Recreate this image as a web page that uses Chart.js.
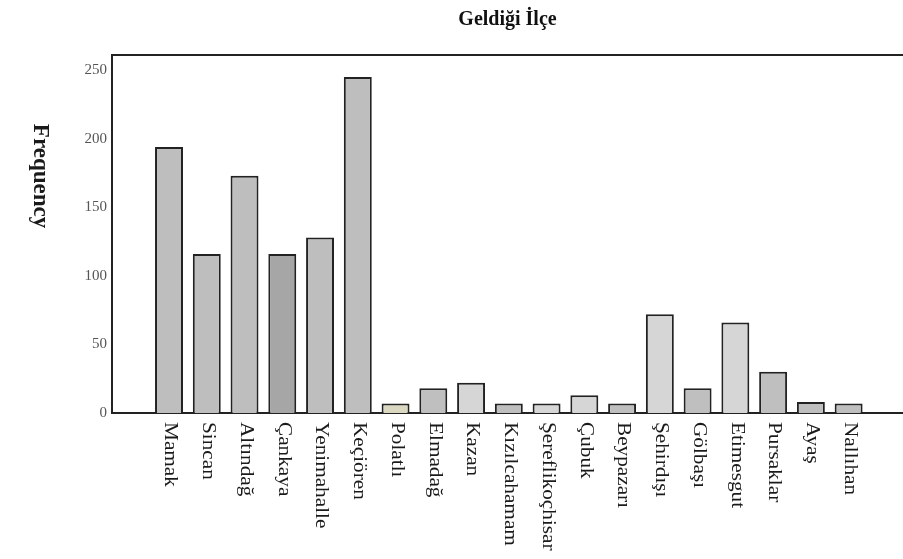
<!DOCTYPE html>
<html>
<head>
<meta charset="utf-8">
<script src="https://cdn.jsdelivr.net/npm/chart.js@4"></script>
<style>
  body { margin: 0; background: #fff; }
  #wrap { width: 903px; height: 559px; }
</style>
</head>
<body>
<div id="wrap"><canvas id="ilceChart"></canvas></div>
<script>
// Geldiği İlçe - frequency per district
const districts = ['Mamak', 'Sincan', 'Altındağ', 'Çankaya', 'Yenimahalle', 'Keçiören', 'Polatlı',
  'Elmadağ', 'Kazan', 'Kızılcahamam', 'Şereflikoçhisar', 'Çubuk', 'Beypazarı', 'Şehirdışı',
  'Gölbaşı', 'Etimesgut', 'Pursaklar', 'Ayaş', 'Nallıhan'];
const frequency = [194, 116, 173, 116, 128, 245, 7, 18, 22, 7, 7, 13, 7, 72, 18, 66, 30, 8, 7];
const barColors = ['#bebebe', '#bebebe', '#bebebe', '#a6a6a6', '#bebebe', '#bebebe', '#dbd8c2',
  '#bfbfbf', '#d6d6d6', '#bfbfbf', '#d6d6d6', '#d6d6d6', '#bfbfbf', '#d6d6d6',
  '#bfbfbf', '#d6d6d6', '#bfbfbf', '#bfbfbf', '#bfbfbf'];
const yTicks = [0, 50, 100, 150, 200, 250];

// labels read top-to-bottom, so draw them ourselves
const sideText = {
  id: 'sideText',
  afterDraw(chart) {
    const { ctx, chartArea, scales } = chart;
    ctx.save();
    ctx.font = '18px "Liberation Serif"';
    ctx.fillStyle = '#1a1a1a';
    ctx.textAlign = 'left';
    ctx.textBaseline = 'middle';
    districts.forEach(function(name, i) {
      ctx.save();
      ctx.translate(scales.x.getPixelForValue(i) + 1, chartArea.bottom + 9);
      ctx.rotate(Math.PI / 2);
      ctx.scale(1.18, 1); // the original labels are drawn stretched
      ctx.fillText(name, 0, 0);
      ctx.restore();
    });
    ctx.font = 'bold 23px "Liberation Serif"';
    ctx.textAlign = 'center';
    ctx.translate(chartArea.left - 72, chartArea.top + 121);
    ctx.rotate(Math.PI / 2);
    ctx.fillText('Frequency', 0, 0);
    ctx.restore();
  }
};

const ctx = document.getElementById('ilceChart').getContext('2d');
new Chart(ctx, {
  type: 'bar',
  data: {
    datasets: [{
      label: 'Frequency',
      data: frequency.map(function(v, i) { return { x: i, y: v }; }),
      backgroundColor: barColors,
      borderColor: '#222',
      borderWidth: 2,
      barPercentage: 0.74,
      categoryPercentage: 1
    }]
  },
  options: {
    responsive: true,
    maintainAspectRatio: false,
    animation: false,
    layout: { padding: { top: 8, left: 0, right: 0, bottom: 146 } },
    plugins: {
      legend: { display: false },
      tooltip: { enabled: false },
      title: {
        display: true,
        text: 'Geldiği İlçe',
        fullSize: false,
        color: '#111',
        font: { family: '"Liberation Serif"', size: 20, weight: 'bold' },
        padding: { top: 0, bottom: 23 }
      }
    },
    scales: {
      x: {
        type: 'linear',
        offset: false,
        min: -1.51,
        max: 19.44,
        grid: { display: false, drawTicks: false },
        ticks: { display: false },
        border: { display: true, color: '#222', width: 2 }
      },
      x2: {
        type: 'linear',
        position: 'top',
        offset: false,
        grid: { display: false, drawTicks: false },
        ticks: { display: false },
        border: { display: true, color: '#222', width: 2 }
      },
      y: {
        min: 0,
        max: 261,
        afterFit: function(scale) { scale.width = 112; },
        afterBuildTicks: function(scale) {
          scale.ticks = yTicks.map(function(v) { return { value: v }; });
        },
        grid: { display: false, drawTicks: false },
        border: { display: true, color: '#222', width: 2 },
        ticks: {
          padding: 5,
          color: '#555',
          font: { family: '"Liberation Serif"', size: 15 }
        }
      }
    }
  },
  plugins: [sideText]
});
</script>
</body>
</html>
